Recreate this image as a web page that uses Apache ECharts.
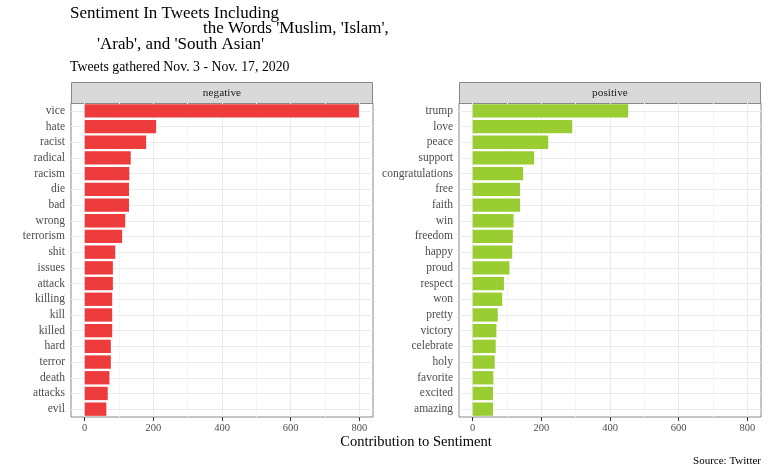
<!DOCTYPE html>
<html>
<head>
<meta charset="utf-8">
<script src="https://cdn.jsdelivr.net/npm/echarts@6/dist/echarts.min.js"></script>
<style>
  html, body { margin: 0; padding: 0; background: #fff; }
  #chart { width: 768px; height: 473px; }
</style>
</head>
<body>
<div id="chart"></div>
<script>
// 数据
var negWords = ['vice', 'hate', 'racist', 'radical', 'racism', 'die', 'bad', 'wrong', 'terrorism', 'shit',
  'issues', 'attack', 'killing', 'kill', 'killed', 'hard', 'terror', 'death', 'attacks', 'evil'];
var negValues = [799, 208, 179, 134, 130, 129, 129, 118, 109, 89, 82, 82, 80, 80, 80, 76, 76, 72, 67, 63];

var posWords = ['trump', 'love', 'peace', 'support', 'congratulations', 'free', 'faith', 'win', 'freedom', 'happy',
  'proud', 'respect', 'won', 'pretty', 'victory', 'celebrate', 'holy', 'favorite', 'excited', 'amazing'];
var posValues = [453, 290, 220, 179, 147, 138, 138, 119, 117, 115, 107, 91, 86, 73, 69, 67, 64, 60, 59, 59];

var xTicks = [0, 200, 400, 600, 800];
var xMinor = [100, 300, 500, 700];

var FONT = 'Liberation Serif';

// 面板位置
var panels = [
  { left: 71, right: 373, words: negWords, values: negValues, color: '#EE3B3B', strip: 'negative' },
  { left: 459, right: 761, words: posWords, values: posValues, color: '#9ACD32', strip: 'positive' }
];
var panelTop = 103, panelBottom = 417, stripTop = 82;

var grid = [], xAxis = [], yAxis = [], series = [], graphic = [];

panels.forEach(function (p, i) {
  grid.push({
    left: p.left, width: p.right - p.left, top: panelTop, height: panelBottom - panelTop,
    show: true, borderColor: '#888', borderWidth: 1, backgroundColor: '#fff'
  });
  xAxis.push({
    type: 'value', gridIndex: i, min: -40, max: 840,
    axisLine: { show: false },
    splitLine: { show: false },
    axisTick: { show: true, customValues: xTicks, length: 4, lineStyle: { color: '#333' } },
    axisLabel: { customValues: xTicks, color: '#4d4d4d', fontSize: 10.5, fontFamily: FONT, margin: 6 }
  });
  yAxis.push({
    type: 'category', gridIndex: i, inverse: true, data: p.words,
    axisLine: { show: false },
    splitLine: { show: false },
    axisTick: { show: true, alignWithLabel: true, interval: 0, length: 4, lineStyle: { color: '#333' } },
    axisLabel: { interval: 0, color: '#4d4d4d', fontSize: 11.5, fontFamily: FONT, margin: 6 }
  });

  // 网格线（ggplot 风格）
  var lines = [];
  p.words.forEach(function (w) { lines.push({ yAxis: w, lineStyle: { color: '#ebebeb', width: 1 } }); });
  xTicks.forEach(function (v) { lines.push({ xAxis: v, lineStyle: { color: '#ebebeb', width: 1 } }); });
  xMinor.forEach(function (v) { lines.push({ xAxis: v, lineStyle: { color: '#f4f4f4', width: 1 } }); });

  series.push({
    type: 'bar', xAxisIndex: i, yAxisIndex: i,
    data: p.values,
    barCategoryGap: '15%',
    itemStyle: { color: p.color },
    z: 3,
    silent: true,
    markLine: {
      z: 1, silent: true, symbol: 'none', animation: false,
      label: { show: false },
      lineStyle: { type: 'solid' },
      data: lines
    }
  });

  // 分面标题条
  graphic.push({
    type: 'rect',
    shape: { x: p.left + 0.5, y: stripTop + 0.5, width: p.right - p.left - 1, height: panelTop - stripTop },
    style: { fill: '#d9d9d9', stroke: '#888', lineWidth: 1 }
  });
  graphic.push({
    type: 'text', x: (p.left + p.right) / 2, y: (stripTop + panelTop) / 2 + 0.5,
    style: { text: p.strip, fill: '#1a1a1a', fontSize: 11.3, fontFamily: FONT, align: 'center', verticalAlign: 'middle' }
  });
});

// 标题等文字
function txt(text, x, y, size, align, color) {
  return {
    type: 'text', x: x, y: y,
    style: { text: text, fill: color || '#000', fontSize: size, fontFamily: FONT, align: align, verticalAlign: 'middle' }
  };
}
graphic.push(txt('Sentiment In Tweets Including', 70, 13.5, 17, 'left'));
graphic.push(txt("the Words 'Muslim, 'Islam',", 203, 29, 17, 'left'));
graphic.push(txt("'Arab', and 'South Asian'", 97, 44.5, 17, 'left'));
graphic.push(txt('Tweets gathered Nov. 3 - Nov. 17, 2020', 70, 67, 13.8, 'left'));
graphic.push(txt('Contribution to Sentiment', 416, 442, 14.5, 'center'));
graphic.push(txt('Source: Twitter', 761, 461, 11, 'right'));

var option = {
  animation: false,
  backgroundColor: '#fff',
  grid: grid,
  xAxis: xAxis,
  yAxis: yAxis,
  series: series,
  graphic: graphic
};

var myChart = echarts.init(document.getElementById('chart'));
myChart.setOption(option);
window.addEventListener('resize', function () { myChart.resize(); });
</script>
</body>
</html>
